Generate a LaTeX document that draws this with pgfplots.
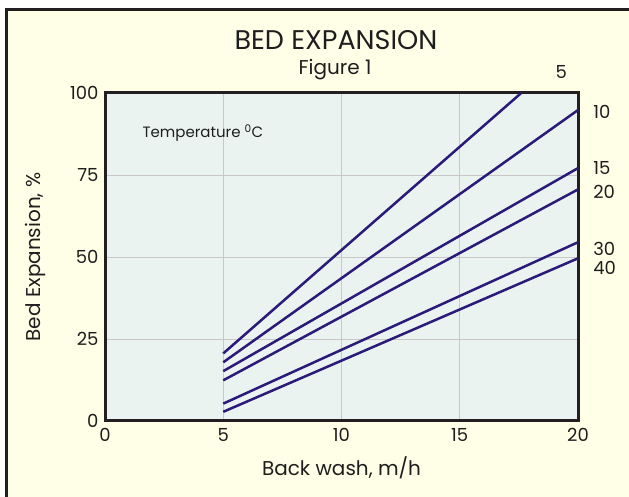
\documentclass[border=0pt]{standalone}
\usepackage{fontspec}
\setmainfont{Poppins}
\usepackage{pgfplots}
\pgfplotsset{compat=1.18}
\definecolor{cream}{RGB}{255,255,232}
\definecolor{plotbg}{RGB}{234,243,240}
\definecolor{navy}{RGB}{42,26,122}
\definecolor{framec}{RGB}{35,31,32}
\definecolor{gridgray}{RGB}{200,200,200}
\definecolor{txt}{RGB}{30,30,30}
\tikzset{bedline/.style={navy, line width=2.5pt, solid, mark=none}}
\begin{document}
\begin{tikzpicture}[x=1pt,y=1pt]
\useasboundingbox (0,0) rectangle (629,497);
\begin{scope}
\clip (0,0) rectangle (629,497);
\filldraw[fill=cream, draw=framec, line width=3pt] (6,-20) rectangle (650,487);
\end{scope}
\node[text=txt, font=\fontsize{27}{27}\selectfont] at (336,457) {BED EXPANSION};
\node[text=txt, font=\fontsize{20}{20}\selectfont] at (335,427) {Figure 1};
\begin{axis}[
    at={(105pt,76pt)}, anchor=south west,
    scale only axis, width=473pt, height=328pt,
    xmin=0, xmax=20, ymin=0, ymax=100,
    xtick={0,5,10,15,20}, ytick={0,25,50,75,100},
    grid=major, grid style={gridgray, line width=0.8pt},
    axis line style={framec, line width=3pt},
    major tick length=0pt,
    axis background/.style={fill=plotbg},
    tick label style={text=txt, font=\fontsize{18}{18}\selectfont},
    xticklabel style={yshift=-4pt},
    yticklabel style={xshift=-3pt},
    /pgf/number format/assume math mode=true,
    clip=false,
    xlabel={Back wash, m/h}, ylabel={Bed Expansion, \%},
    xlabel style={at={(axis description cs:0.5,-0.143)}, anchor=center, text=txt, font=\fontsize{20}{20}\selectfont},
    ylabel style={at={(axis description cs:-0.148,0.5)}, anchor=center, text=txt, font=\fontsize{20}{20}\selectfont},
]
\addplot[bedline] coordinates {(5,20.6) (17.6,100)};
\addplot[bedline] coordinates {(5,17.9) (20,94.8)};
\addplot[bedline] coordinates {(5,15.2) (20,77.1)};
\addplot[bedline] coordinates {(5,12.4) (20,70.6)};
\addplot[bedline] coordinates {(5,5.3) (20,54.5)};
\addplot[bedline] coordinates {(5,2.8) (20,49.6)};
\begin{scope}[every node/.style={text=txt, font=\fontsize{18}{18}\selectfont, anchor=west}]
\node at (axis cs:18.9,106.4) {5};
\node at (axis cs:20.5,94.2) {10};
\node at (axis cs:20.5,77) {15};
\node at (axis cs:20.5,69.8) {20};
\node at (axis cs:20.5,52.4) {30};
\node at (axis cs:20.5,46.8) {40};
\end{scope}
\node[text=txt, font=\fontsize{15}{15}\selectfont] at (axis cs:4.14,87.8) {Temperature \textsuperscript{0}C};
\end{axis}
\end{tikzpicture}
\end{document}
